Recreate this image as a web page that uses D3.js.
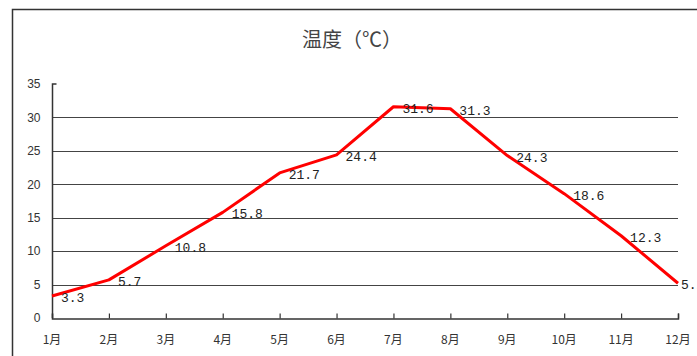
<!DOCTYPE html>
<html>
<head>
<meta charset="utf-8">
<script src="https://cdn.jsdelivr.net/npm/d3@7"></script>
<style>
  body { margin: 0; background: #fff; overflow: hidden; }
  svg { display: block; }
</style>
</head>
<body>
<div id="chart"></div>
<script>
// chart data
const months = ['1月', '2月', '3月', '4月', '5月', '6月', '7月', '8月', '9月', '10月', '11月', '12月'];
const temps = [3.3, 5.7, 10.8, 15.8, 21.7, 24.4, 31.6, 31.3, 24.3, 18.6, 12.3, 5.2];
const yTicks = [0, 5, 10, 15, 20, 25, 30, 35];
const titleText = '温度（℃）';

const W = 697, H = 356;
const plotLeft = 52, plotRight = 678, plotTop = 84, plotBottom = 318;

const svg = d3.select('#chart').append('svg')
    .attr('width', W)
    .attr('height', H);

// outer frame (runs off the right / bottom edge like the original)
svg.append('rect')
    .attr('x', 12.5).attr('y', 9.5)
    .attr('width', 720).attr('height', 400)
    .attr('fill', 'none')
    .attr('stroke', '#333')
    .attr('stroke-width', 1.5);

svg.append('text')
    .attr('x', 352).attr('y', 47)
    .attr('text-anchor', 'middle')
    .attr('font-family', '"Noto Sans CJK SC", sans-serif')
    .attr('font-size', 20)
    .attr('fill', '#444')
    .text(titleText);

const x = d3.scalePoint().domain(months).range([plotLeft, plotRight]);
const y = d3.scaleLinear().domain([0, 35]).range([plotBottom, plotTop]);

// gridlines
svg.append('g')
    .selectAll('line')
    .data(yTicks.filter(t => t > 0 && t < 35))
    .enter().append('line')
    .attr('x1', plotLeft).attr('x2', plotRight)
    .attr('y1', d => Math.round(y(d)) + 0.5)
    .attr('y2', d => Math.round(y(d)) + 0.5)
    .attr('stroke', '#444')
    .attr('stroke-width', 1.2);

// y axis
const yAxis = svg.append('g')
    .attr('transform', `translate(${plotLeft + 0.5},0)`)
    .call(d3.axisLeft(y).tickValues(yTicks).tickSize(0).tickPadding(12));
yAxis.select('.domain').attr('stroke', '#333').attr('stroke-width', 1.5)
    .attr('d', `M4,${y(35)}H0V${y(0)}`);
yAxis.selectAll('text')
    .attr('font-family', 'Arial, "Liberation Sans", sans-serif')
    .attr('font-size', 12)
    .attr('fill', '#333');

// x axis, ticks pointing up into the plot
const xAxis = svg.append('g')
    .attr('transform', `translate(0,${plotBottom + 0.5})`)
    .call(d3.axisTop(x).tickSize(5).tickFormat(''));
xAxis.select('.domain').attr('stroke', '#333').attr('stroke-width', 1.5);
xAxis.selectAll('.tick line').attr('stroke', '#333').attr('stroke-width', 1.2);

svg.append('g')
    .selectAll('text')
    .data(months)
    .enter().append('text')
    .attr('x', d => x(d))
    .attr('y', plotBottom + 26)
    .attr('text-anchor', 'middle')
    .attr('font-family', '"Noto Sans CJK SC", sans-serif')
    .attr('font-size', 12)
    .attr('fill', '#333')
    .text(d => d);

// the line
const line = d3.line()
    .x((d, i) => x(months[i]))
    .y(d => y(d));

svg.append('path')
    .datum(temps)
    .attr('d', line)
    .attr('fill', 'none')
    .attr('stroke', '#ff0000')
    .attr('stroke-width', 3)
    .attr('stroke-linejoin', 'round');

// value labels (last one squeezed against the edge, as excel did)
svg.append('g')
    .selectAll('text')
    .data(temps)
    .enter().append('text')
    .attr('x', (d, i) => x(months[i]) + (i === temps.length - 1 ? 3 : 9))
    .attr('y', d => y(d) + 6)
    .attr('font-family', '"Liberation Mono", "DejaVu Sans Mono", monospace')
    .attr('font-size', 13)
    .attr('fill', '#222')
    .text(d => d.toFixed(1));
</script>
</body>
</html>
